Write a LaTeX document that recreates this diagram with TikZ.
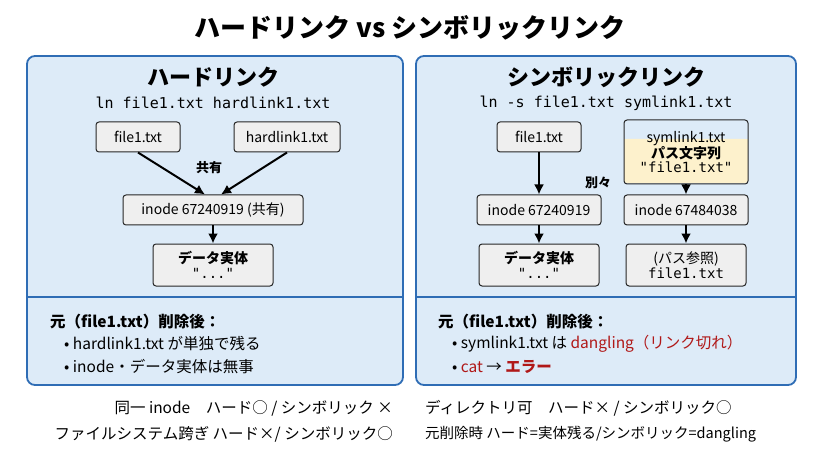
\documentclass[tikz,border=0pt]{standalone}
\usepackage{fontspec}
\setmainfont{Noto Sans CJK JP}
\setmonofont{DejaVu Sans Mono}
\usetikzlibrary{positioning,calc,arrows.meta}
\definecolor{panelfill}{HTML}{DDEBF8}
\definecolor{panelline}{HTML}{2F6DB5}
\definecolor{boxfill}{HTML}{EFEFEF}
\definecolor{pathfill}{HTML}{FDF1CC}
\definecolor{errred}{HTML}{B01818}
\begin{document}
\begin{tikzpicture}[x=1pt,y=-1pt,
  panel/.style={draw=panelline,line width=1.8pt,fill=panelfill,rounded corners=8pt},
  fbox/.style={draw=black!85,line width=1pt,fill=boxfill,rounded corners=3pt,font=\fontsize{14}{15}\selectfont,align=center,inner sep=2pt},
  arr/.style={-{Latex[length=10pt,width=10pt]},line width=2pt},
  txt/.style={font=\fontsize{15.5}{17}\selectfont,anchor=west,inner sep=0pt}]
\useasboundingbox (0,0) rectangle (819,457);
\node[font=\fontsize{26}{28}\selectfont\bfseries] (title) at (410,28) {ハードリンク vs シンボリックリンク};
% panels
\draw[panel] (27,56) rectangle (403,385);
\draw[panel] (416,56) rectangle (796,385);
\draw[panelline,line width=1.2pt] (27,297) -- (403,297);
\draw[panelline,line width=1.2pt] (416,297) -- (796,297);
% left: hard link
\node[font=\fontsize{22}{24}\selectfont\bfseries] (hhead) at (213,77) {ハードリンク};
\node[font=\ttfamily\fontsize{15}{16}\selectfont] (hcmd) at (213,103) {ln file1.txt hardlink1.txt};
\node[fbox,minimum width=84pt,minimum height=30pt] (hfile) at (138,137) {file1.txt};
\node[fbox,minimum width=106pt,minimum height=30pt] (hlink) at (287,137) {hardlink1.txt};
\node[fbox,minimum width=180pt,minimum height=30pt] (hinode) at (213,210) {inode 67240919 (共有)};
\node[fbox,minimum width=120pt,minimum height=42pt] (hdata) at (213,265) {\textbf{データ実体}\\\texttt{"..."}};
\node[font=\fontsize{13}{14}\selectfont\bfseries] (share) at (209,168) {共有};
\draw[arr] (hfile.south) -- ($(hinode.north)+(-8,0)$);
\draw[arr] (hlink.south) -- ($(hinode.north)+(8,0)$);
\draw[arr] (hinode) -- (hdata);
\node[txt,font=\fontsize{15.5}{17}\selectfont\bfseries] (hdel) at (50,322) {元（file1.txt）削除後：};
\node[txt] (hb1) at (64,344) {• hardlink1.txt が単独で残る};
\node[txt] (hb2) at (64,367) {• inode・データ実体は無事};
% right: symbolic link
\node[font=\fontsize{22}{24}\selectfont\bfseries] (shead) at (606,77) {シンボリックリンク};
\node[font=\ttfamily\fontsize{15}{16}\selectfont] (scmd) at (606,103) {ln -s file1.txt symlink1.txt};
\node[fbox,minimum width=84pt,minimum height=30pt] (sfile) at (539,137) {file1.txt};
\fill[pathfill,rounded corners=3pt] (624,139) rectangle (748,183);
\fill[pathfill] (624,139) rectangle (748,150);
\node[fbox,fill=none,minimum width=124pt,minimum height=64pt] (slink) at (686,152)
  {symlink1.txt\\[-1pt]\textbf{パス文字列}\\[-1pt]\texttt{"file1.txt"}};
\node[fbox,minimum width=124pt,minimum height=30pt] (sinodea) at (539,210) {inode 67240919};
\node[fbox,minimum width=124pt,minimum height=30pt] (sinodeb) at (686,210) {inode 67484038};
\node[fbox,minimum width=120pt,minimum height=42pt] (sdata) at (539,265) {\textbf{データ実体}\\\texttt{"..."}};
\node[fbox,minimum width=120pt,minimum height=42pt] (sref) at (686,265) {(パス参照)\\\texttt{file1.txt}};
\node[font=\fontsize{13}{14}\selectfont\bfseries] (sep) at (598,183) {別々};
\draw[arr] (sfile) -- (sinodea);
\draw[arr] (slink) -- (sinodeb);
\draw[arr] (sinodea) -- (sdata);
\draw[arr] (sinodeb) -- (sref);
\node[txt,font=\fontsize{15.5}{17}\selectfont\bfseries] (sdel) at (438,322) {元（file1.txt）削除後：};
\node[txt] (sb1) at (452,344) {• symlink1.txt は \textcolor{errred}{dangling（リンク切れ）}};
\node[txt] (sb2) at (452,367) {• \textcolor{errred}{cat} → \textcolor{errred}{\textbf{エラー}}};
% comparison notes
\node[txt,anchor=east] (n1) at (393,408) {同一 inode\quad ハード○ / シンボリック ×};
\node[txt,anchor=east] (n2) at (393,434) {ファイルシステム跨ぎ ハード×/ シンボリック○};
\node[txt] (n3) at (425,408) {ディレクトリ可\quad ハード× / シンボリック○};
\node[txt] (n4) at (425,434) {\fontsize{14.5}{16}\selectfont 元削除時 ハード=実体残る/シンボリック=dangling};
\end{tikzpicture}
\end{document}
